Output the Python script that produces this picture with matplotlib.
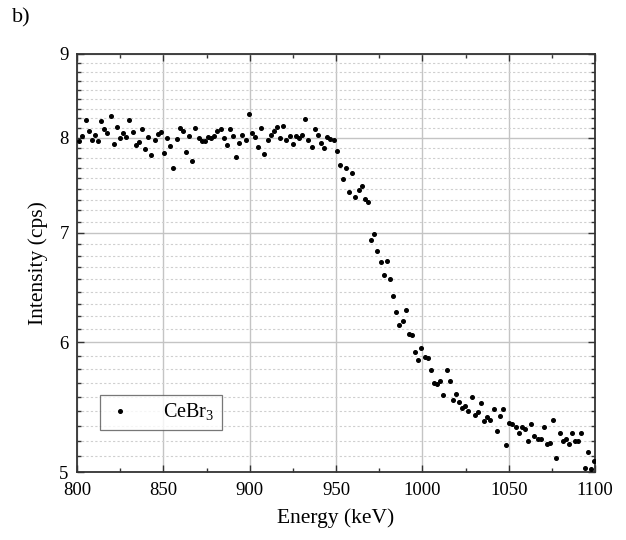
import numpy as np
import matplotlib
matplotlib.use("Agg")
import matplotlib.pyplot as plt
from matplotlib.ticker import FixedLocator, FixedFormatter, NullFormatter, MultipleLocator

plt.rcParams['font.family'] = ['Liberation Serif', 'DejaVu Serif']
plt.rcParams['mathtext.fontset'] = 'custom'
plt.rcParams['mathtext.rm'] = 'Liberation Serif'

# Energy channels (keV): evenly spaced bins
energy_start = 801.3
energy_step = 1.818

# Measured count rate (cps) for each channel
intensity = [
    7.96, 8.02, 8.20, 8.08, 7.98, 8.03, 7.96, 8.19, 8.10, 8.05,
    8.25, 7.93, 8.12, 8.00, 8.05, 8.01, 8.20, 8.07, 7.92, 7.95,
    8.10, 7.87, 8.01, 7.81, 7.98, 8.04, 8.06, 7.83, 8.00, 7.91,
    7.67, 7.99, 8.11, 8.08, 7.84,
    8.02, 7.74, 8.11, 8.00, 7.96, 7.96, 8.01, 8.00, 8.02, 8.08,
    8.10, 8.00, 7.92, 8.10, 8.02, 7.79, 7.94, 8.03, 7.98, 8.27,
    8.05, 8.01, 7.90, 8.11, 7.82, 7.97, 8.03, 8.08, 8.12, 8.00,
    8.13, 7.97, 8.02, 7.93, 8.02,
    8.00, 8.03, 8.21, 7.98, 7.90, 8.10, 8.03, 7.94, 7.89, 8.01,
    7.99, 7.98, 7.85, 7.70, 7.55, 7.67, 7.41, 7.61, 7.36, 7.43,
    7.48, 7.34, 7.31, 6.93, 6.99, 6.82, 6.72, 6.60, 6.73, 6.56,
    6.40,
    6.26, 6.15, 6.18, 6.28, 6.07, 6.06, 5.92, 5.85, 5.95, 5.88,
    5.87, 5.77, 5.67, 5.66, 5.68, 5.57, 5.77, 5.68, 5.53, 5.58,
    5.52, 5.47, 5.49, 5.45, 5.56, 5.42, 5.44, 5.51, 5.37, 5.40,
    5.38, 5.46, 5.30, 5.41, 5.46, 5.19,
    5.36, 5.35, 5.33, 5.28, 5.33, 5.31, 5.22, 5.35, 5.26, 5.24,
    5.24, 5.33, 5.20, 5.21, 5.38, 5.10, 5.28, 5.22, 5.24, 5.20,
    5.28, 5.22, 5.22, 5.28, 5.03, 5.14, 5.02, 5.08,
]
energy = energy_start + energy_step * np.arange(len(intensity))

x_ticks = [800, 850, 900, 950, 1000, 1050, 1100]
y_ticks = [5, 6, 7, 8, 9]
y_tick_labels = ['5', '6', '7', '8', '9']
series_label = r'CeBr$_3$'

fig = plt.figure(figsize=(6.26, 5.40), dpi=100)
ax = fig.add_axes([77 / 626, 1 - 472 / 540, 518 / 626, 418 / 540])

ax.plot(energy, intensity, linestyle='none', marker='o', markersize=2.6,
        color='black', label=series_label, zorder=3)

ax.set_yscale('log')
ax.set_xlim(800, 1100)
ax.set_ylim(5, 9)

ax.xaxis.set_major_locator(FixedLocator(x_ticks))
ax.xaxis.set_minor_locator(MultipleLocator(25))
ax.yaxis.set_major_locator(FixedLocator(y_ticks))
ax.yaxis.set_major_formatter(FixedFormatter(y_tick_labels))
y_minor = [n + k / 9 for n in y_ticks[:-1] for k in range(1, 9)]
ax.yaxis.set_minor_locator(FixedLocator(y_minor))
ax.yaxis.set_minor_formatter(NullFormatter())

ax.grid(True, which='major', color='#c4c4c4', linewidth=1.0, zorder=0)
ax.grid(True, which='minor', axis='y', color='#cfcfcf', linewidth=0.8,
        linestyle=(0, (2.0, 2.0)), zorder=0)
ax.set_axisbelow(True)

ax.tick_params(which='both', direction='in', top=True, right=True,
               labelsize=13.5, width=1.0, color='#333333')
ax.tick_params(which='major', length=5)
ax.tick_params(which='minor', length=3)
ax.tick_params(axis='x', which='major', pad=7)
ax.tick_params(axis='y', which='major', pad=6)
for s in ax.spines.values():
    s.set_linewidth(1.3)
    s.set_color('#333333')

ax.set_xlabel('Energy (keV)', fontsize=15.5, labelpad=7)
ax.set_ylabel('Intensity (cps)', fontsize=15.5, labelpad=8)

leg = ax.legend(loc='upper left', bbox_to_anchor=(0.044, 0.184),
                frameon=True, fancybox=False, fontsize=14.5,
                handlelength=1.3, handletextpad=1.5, borderpad=0.35,
                borderaxespad=0, markerscale=1.0)
leg.get_frame().set_edgecolor('#555555')
leg.get_frame().set_linewidth(0.9)

fig.text(12 / 626, 1 - 18 / 540, 'b)', fontsize=16, va='center', ha='left')

fig.savefig('out.png', dpi=100)
